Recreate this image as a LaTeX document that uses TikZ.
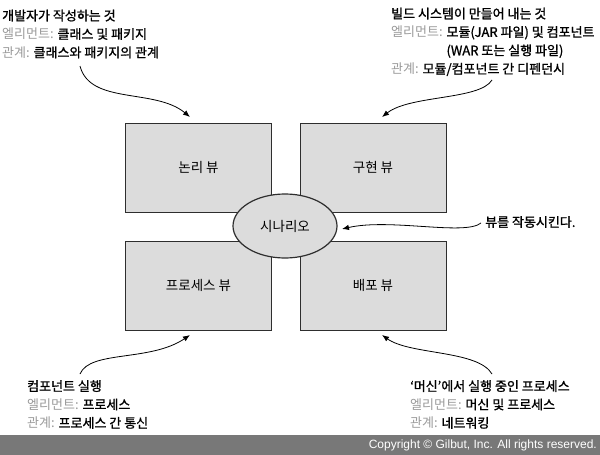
\documentclass[tikz,border=0pt]{standalone}
\usepackage{fontspec}
\usepackage{tikz}
\usepackage{xcolor}
\usetikzlibrary{arrows.meta,shapes.geometric}
\setmainfont{Liberation Sans}
\newfontfamily\kr{Noto Sans CJK KR}
\newfontfamily\krb[FakeBold=1.2]{Noto Sans CJK KR}
\definecolor{boxgray}{HTML}{DCDCDC}
\definecolor{labgray}{HTML}{9A9A9A}
\definecolor{edgegray}{HTML}{2E2E2E}
\definecolor{bargray}{HTML}{787878}
\newcommand{\lab}[1]{{\kr\color{labgray}#1}}

\begin{document}
\begin{tikzpicture}[x=1pt,y=-1pt,>={Latex[length=7pt,width=5.5pt]},
    view/.style={draw=edgegray,line width=1pt,fill=boxgray,minimum width=146pt,minimum height=89pt,font=\kr\fontsize{13.5}{16}\selectfont},
    note/.style={align=left,anchor=north west,inner sep=0pt,font=\krb\fontsize{13}{18.4}\selectfont},
    link/.style={->,line width=0.8pt}]
    \useasboundingbox (0,0) rectangle (600,455);
    \fill[bargray] (0,435) rectangle (600,455);
    \node[anchor=east,inner sep=0pt,text=white,font=\fontsize{12}{14}\selectfont] (copy) at (597,445.5) {Copyright © Gilbut, Inc. All rights reserved.};
    \node[view] (logic) at (198.5,167.5) {논리 뷰};
    \node[view] (impl) at (373,167.5) {구현 뷰};
    \node[view] (proc) at (198.5,285.5) {프로세스 뷰};
    \node[view] (deploy) at (373,285.5) {배포 뷰};
    \node[ellipse,draw=edgegray,line width=1.2pt,fill=boxgray,minimum width=104pt,minimum height=64pt,inner sep=0pt,font=\kr\fontsize{13.5}{16}\selectfont] (scen) at (285,226) {시나리오};
    \node[note] (devnote) at (2,9.5) {개발자가 작성하는 것\\\lab{엘리먼트:} 클래스 및 패키지\\\lab{관계:} 클래스와 패키지의 관계};
    \node[note] (buildnote) at (391,7.5) {빌드 시스템이 만들어 내는 것\\\lab{엘리먼트:} 모듈(JAR 파일) 및 컴포넌트\\\hphantom{\lab{엘리먼트:} }(WAR 또는 실행 파일)\\\lab{관계:} 모듈/컴포넌트 간 디펜던시};
    \node[note] (runnote) at (27,380) {컴포넌트 실행\\\lab{엘리먼트:} 프로세스\\\lab{관계:} 프로세스 간 통신};
    \node[note] (machinenote) at (410,380) {‘머신’에서 실행 중인 프로세스\\\lab{엘리먼트:} 머신 및 프로세스\\\lab{관계:} 네트워킹};
    \node[note,anchor=west] (drivenote) at (485,222) {뷰를 작동시킨다.};
    \coordinate (devfrom) at (80,66);
    \coordinate (devto) at (190,117);
    \coordinate (buildfrom) at (492,80);
    \coordinate (buildto) at (382,117);
    \coordinate (runfrom) at (80,374);
    \coordinate (runto) at (190,335);
    \coordinate (machinefrom) at (492,374);
    \coordinate (machineto) at (382,335);
    \coordinate (drivefrom) at (481,223);
    \coordinate (driveto) at (342,229);
    \draw[link] (devfrom) .. controls (90,105) and (155,88) .. (devto);
    \draw[link] (buildfrom) .. controls (480,100) and (410,95) .. (buildto);
    \draw[link] (runfrom) .. controls (90,350) and (150,362) .. (runto);
    \draw[link] (machinefrom) .. controls (478,350) and (410,355) .. (machineto);
    \draw[link] (drivefrom) .. controls (465,236) and (390,218) .. (driveto);
\end{tikzpicture}
\end{document}
